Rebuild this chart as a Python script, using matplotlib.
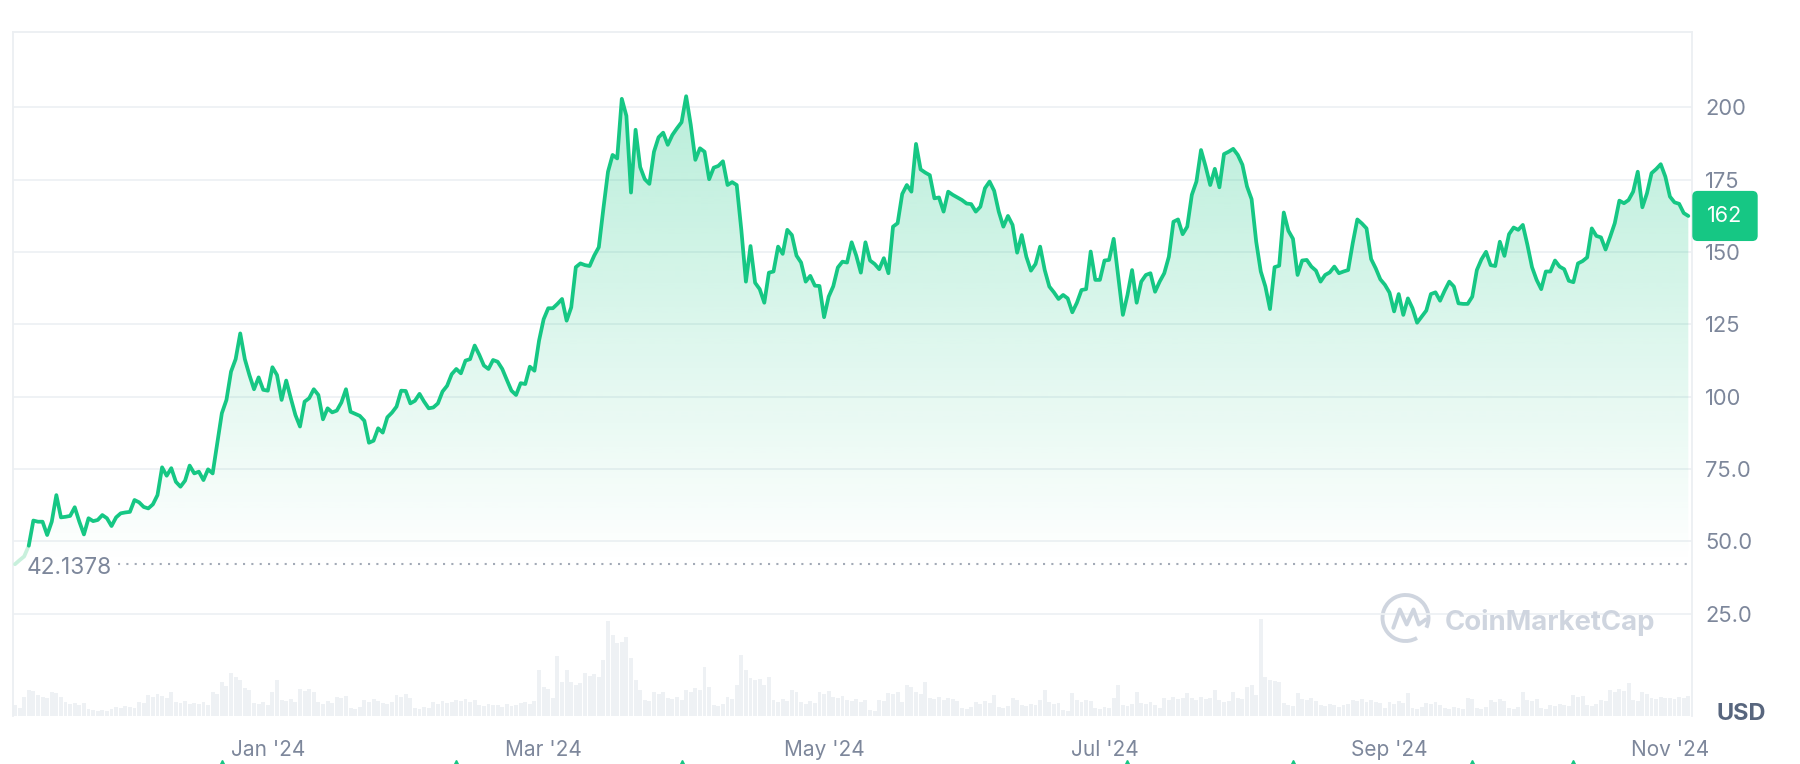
'''
 Price chart with volume bars, in the CoinMarketCap style
'''
import numpy as np
import pandas as pd
import matplotlib
matplotlib.use('Agg')
import matplotlib.pyplot as plt
import matplotlib.dates as mdates
from matplotlib.patches import Arc
from matplotlib.lines import Line2D
from matplotlib.colors import to_rgb
from matplotlib.transforms import blended_transform_factory

plt.rcParams['font.family'] = ['Inter', 'DejaVu Sans']

# ---------------- data ----------------
start_date = '2023-11-07'   # first daily point
open_price = 42.1378        # reference (open) price, dotted line
last_label = '162'          # badge at the right

price = [
    42.1, 43.5, 44.8, 48.5, 57.2, 56.8, 56.8, 52.2, 56.8, 66.0,
    58.3, 58.5, 58.8, 61.8, 56.8, 52.4, 58.0, 57.0, 57.4, 59.1,
    58.0, 55.3, 58.3, 59.7, 60.0, 60.2, 64.3, 63.5, 61.9, 61.4,
    62.8, 66.0, 75.6, 72.7, 75.3, 70.6, 68.9, 71.0, 76.2, 73.5,
    74.1, 71.2, 74.9, 73.5, 83.9, 94.3, 98.9, 108.7, 113.0, 121.9,
    113.0, 107.5, 102.6, 106.7, 102.4, 102.1, 110.2, 107.5, 98.9, 105.6,
    99.5, 93.7, 89.7, 98.3, 99.5, 102.6, 100.6, 92.2, 96.0, 94.6,
    95.2, 98.0, 102.6, 94.8, 94.1, 93.4, 91.7, 84.1, 84.8, 89.1,
    87.6, 92.9, 94.5, 96.6, 102.1, 102.0, 97.7, 98.6, 101.0, 98.3,
    96.0, 96.3, 97.7, 101.8, 103.8, 107.8, 109.6, 108.1, 112.5, 113.0,
    117.7, 114.5, 110.8, 109.6, 112.7, 112.1, 109.6, 105.8, 102.1, 100.6,
    104.7, 104.4, 110.4, 109.0, 119.4, 126.8, 130.6, 130.6, 132.1, 133.8,
    126.3, 130.9, 144.8, 146.1, 145.5, 145.2, 148.8, 151.7, 165.1, 177.8,
    183.6, 182.4, 203.0, 197.1, 170.6, 192.3, 179.4, 175.2, 173.6, 184.7,
    189.7, 191.3, 187.1, 190.5, 192.8, 194.9, 203.9, 194.0, 181.9, 185.9,
    184.7, 175.2, 179.2, 179.8, 181.4, 173.2, 174.2, 173.2, 157.7, 139.8,
    152.1, 139.4, 137.2, 132.5, 142.9, 143.3, 151.9, 149.4, 157.7, 155.9,
    148.8, 146.4, 139.8, 141.8, 138.4, 138.3, 127.5, 134.6, 138.2, 144.7,
    146.7, 146.4, 153.4, 148.8, 142.9, 153.4, 147.1, 145.9, 144.1, 147.9,
    142.7, 158.8, 160.0, 170.1, 173.2, 170.9, 187.4, 178.6, 177.5, 176.6,
    168.6, 168.9, 164.0, 170.9, 169.8, 168.9, 168.0, 166.8, 166.6, 164.0,
    165.7, 172.1, 174.4, 171.2, 164.0, 158.8, 162.5, 159.4, 149.8, 155.9,
    148.4, 143.6, 145.9, 151.9, 143.8, 138.1, 136.1, 133.8, 135.2, 134.0,
    129.2, 132.5, 136.9, 137.2, 150.2, 140.4, 140.4, 147.1, 147.3, 154.6,
    141.5, 128.3, 135.2, 143.8, 132.5, 139.8, 142.1, 142.7, 136.3, 139.8,
    142.7, 148.4, 160.5, 161.3, 156.2, 158.8, 169.8, 174.4, 185.3, 179.6,
    173.2, 178.8, 172.4, 183.9, 184.7, 185.7, 183.6, 180.2, 172.7, 168.3,
    153.6, 143.3, 138.1, 130.3, 144.8, 145.3, 163.7, 157.4, 154.6, 142.1,
    147.1, 147.3, 145.0, 143.6, 139.8, 142.1, 143.0, 145.0, 142.7, 143.3,
    143.8, 153.1, 161.3, 159.9, 158.2, 147.6, 144.4, 140.6, 138.7, 136.0,
    129.5, 135.5, 128.3, 134.0, 130.6, 125.6, 127.7, 129.8, 135.5, 136.1,
    133.2, 136.7, 139.8, 138.1, 132.3, 132.1, 132.1, 134.6, 143.8, 147.5,
    150.1, 145.5, 145.2, 153.6, 148.7, 156.2, 158.5, 157.7, 159.4, 152.5,
    144.8, 140.4, 137.2, 143.3, 143.3, 147.1, 145.0, 144.1, 140.1, 139.6,
    146.1, 146.9, 148.2, 158.2, 155.6, 155.1, 150.9, 155.3, 160.0, 167.8,
    166.9, 168.0, 170.9, 177.8, 165.5, 170.3, 177.3, 178.7, 180.4, 176.1,
    169.2, 167.2, 166.7, 163.5, 162.5,
]

# daily volume (relative units)
volume = [
    11, 8, 19, 26, 25, 21, 19, 18, 24, 23,
    19, 14, 12, 13, 11, 13, 7, 6, 5, 6,
    5, 7, 9, 8, 10, 9, 8, 14, 13, 21,
    19, 22, 20, 18, 24, 14, 13, 15, 12, 13,
    12, 14, 11, 24, 22, 34, 30, 43, 39, 36,
    28, 26, 13, 12, 14, 11, 24, 36, 16, 15,
    17, 14, 27, 25, 27, 24, 14, 12, 15, 13,
    19, 18, 20, 8, 7, 9, 16, 14, 17, 15,
    13, 12, 14, 21, 19, 22, 18, 8, 7, 9,
    8, 14, 12, 15, 13, 14, 16, 15, 17, 14,
    16, 11, 10, 12, 11, 11, 9, 12, 10, 11,
    13, 14, 12, 15, 46, 29, 27, 18, 60, 34,
    46, 34, 31, 33, 43, 40, 42, 39, 56, 95,
    81, 73, 74, 79, 58, 36, 26, 16, 15, 24,
    22, 24, 18, 17, 19, 16, 26, 24, 28, 26,
    49, 29, 11, 10, 12, 19, 17, 31, 61, 46,
    38, 36, 37, 31, 39, 16, 14, 17, 15, 26,
    24, 14, 12, 15, 13, 24, 22, 25, 19, 18,
    20, 16, 15, 17, 14, 16, 6, 5, 16, 15,
    23, 22, 24, 14, 31, 29, 24, 22, 34, 18,
    17, 19, 16, 18, 17, 15, 8, 7, 9, 14,
    12, 15, 13, 21, 9, 8, 10, 18, 16, 11,
    10, 12, 11, 16, 26, 14, 12, 13, 6, 5,
    23, 16, 14, 16, 15, 8, 7, 9, 8, 18,
    31, 11, 10, 12, 24, 13, 12, 14, 11, 8,
    18, 16, 19, 17, 18, 23, 18, 16, 19, 17,
    18, 26, 16, 14, 15, 24, 18, 17, 29, 31,
    21, 97, 39, 36, 35, 34, 13, 11, 10, 23,
    17, 16, 18, 15, 11, 10, 12, 11, 9, 11,
    12, 16, 15, 17, 14, 16, 14, 13, 8, 14,
    12, 15, 13, 23, 8, 7, 9, 13, 12, 14,
    11, 8, 7, 9, 8, 7, 18, 17, 8, 7,
    9, 16, 14, 17, 15, 8, 7, 9, 24, 16,
    15, 17, 8, 7, 11, 10, 12, 11, 10, 21,
    19, 20, 11, 10, 12, 16, 15, 26, 24, 27,
    25, 33, 16, 15, 24, 22, 18, 17, 19, 18,
    18, 17, 19, 18, 20,
]

# event markers under the time axis
events = ['2023-12-22', '2024-02-11', '2024-03-31', '2024-07-06',
          '2024-08-11', '2024-09-19', '2024-10-11']

y_ticks = [25, 50, 75, 100, 125, 150, 175, 200]
y_tick_labels = ['25.0', '50.0', '75.0', '100', '125', '150', '175', '200']
tick_months = [1, 3, 5, 7, 9, 11]

# ---------------- style ----------------
green = '#16c784'
label_color = '#7d879b'
grid_color = '#eef1f4'
W, H = 1800, 764

dates = pd.date_range(start_date, periods=len(price), freq='D')
event_dates = pd.to_datetime(events)

fig = plt.figure(figsize=(W / 100, H / 100), dpi=100)
ax = fig.add_axes([13 / W, 48 / H, 1679 / W, 684 / H])  # main canvas
ax_vol = ax.twinx()  # volume bars share the time axis

# volume bars at the bottom
ax_vol.bar(dates, volume, width=0.85, color='#eef1f4', linewidth=0)
ax_vol.set_ylim(0, 684)
ax_vol.set_yticks([])
for s in ax_vol.spines.values():
    s.set_visible(False)
ax.set_zorder(ax_vol.get_zorder() + 1)
ax.patch.set_visible(False)

# area under the line, gradient from the line down to the open price
fill = ax.fill_between(dates, price, open_price, facecolor='none', edgecolor='none')
grad = np.zeros((256, 1, 4))
grad[:, 0, :3] = to_rgb(green)
grad[:, 0, 3] = np.linspace(0.30, 0.0, 256)
x0, x1 = mdates.date2num(dates[0]), mdates.date2num(dates[-1])
im = ax.imshow(grad, extent=[x0, x1, open_price, max(price)], origin='upper',
               aspect='auto', interpolation='bilinear', zorder=1)
im.set_clip_path(fill.get_paths()[0], transform=ax.transData)

# the price line (first days drawn pale, as in the source)
ax.plot(dates[:4], price[:4], color='#c8f0dc', linewidth=2.7, zorder=3,
        solid_capstyle='round')
ax.plot(dates[3:], price[3:], color=green, linewidth=2.7, zorder=4,
        solid_joinstyle='round', solid_capstyle='round')

# dotted reference line and its label
ax.axhline(open_price, xmin=0.0625, xmax=1, color='#a3aab7', linewidth=1.5,
           linestyle=(0, (1, 3)), zorder=2)
ax.text(x0 + 2.6, open_price - 1.5, f'{open_price:.4f}', fontsize=16.3,
        color=label_color, ha='left', va='center', zorder=5)

# event markers, half cut off by the bottom edge
ax.plot(event_dates, [-0.073] * len(event_dates), linestyle='none', marker='^',
        markersize=8, color=green, transform=ax.get_xaxis_transform(), clip_on=False)

# axes limits, grid and ticks
ax.set_xlim(x0 - 0.43, x0 + 364.8)
ax.set_ylim(-10.37, 226.1)
ax.set_yticks(y_ticks)
ax.set_yticklabels(y_tick_labels)
ax.yaxis.tick_right()
ax.tick_params(axis='y', length=0, pad=9.4, labelsize=15.8, labelcolor=label_color)
ax.xaxis.set_major_locator(mdates.MonthLocator(bymonth=tick_months))
ax.xaxis.set_major_formatter(mdates.DateFormatter("%b '%y"))
ax.tick_params(axis='x', length=0, pad=17.5, labelsize=15, labelcolor=label_color)
ax.grid(axis='y', color=grid_color, linewidth=1.3)
ax.set_axisbelow(True)

for side in ['top', 'left', 'right']:
    ax.spines[side].set_color('#eceff2')
    ax.spines[side].set_linewidth(1.3)
ax.spines['bottom'].set_visible(False)

# last price badge
ax.annotate(last_label, xy=(1, price[-1]),
            xycoords=blended_transform_factory(ax.transAxes, ax.transData),
            xytext=(33, 0), textcoords='offset pixels', ha='center', va='center',
            fontsize=15.5, color='white', zorder=6, annotation_clip=False,
            bbox=dict(boxstyle='round,pad=0.7,rounding_size=0.25', fc=green, ec='none'))

# currency label
fig.text(1717 / W, 1 - 714 / H, 'USD', fontsize=17, fontweight='bold',
         color='#58667e', ha='left', va='center')

# watermark: logo ring, wave and the name
wm = '#cfd5df'
fig.add_artist(Arc((14.055, 1.46), 0.46, 0.46, theta1=-25, theta2=300,
                   transform=fig.dpi_scale_trans, color=wm, linewidth=2.8))
fig.add_artist(Line2D([13.933, 13.998, 14.067, 14.135, 14.189, 14.258],
                      [1.362, 1.545, 1.395, 1.545, 1.395, 1.445],
                      transform=fig.dpi_scale_trans, color=wm, linewidth=2.8,
                      solid_joinstyle='round', solid_capstyle='round'))
fig.text(1445 / W, 1 - 630 / H, 'CoinMarketCap', fontsize=19.8, fontweight='bold',
         color=wm, ha='left', va='baseline')

fig.savefig('out.png', dpi=100, facecolor='white')
